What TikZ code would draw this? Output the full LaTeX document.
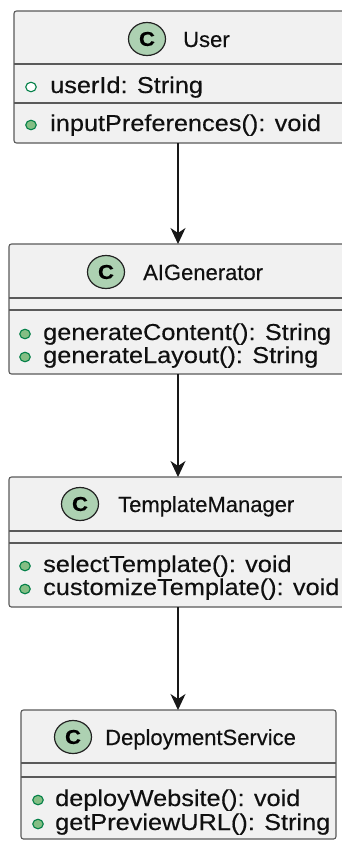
\documentclass[tikz,border=0pt]{standalone}
\usepackage{fontspec}
\setmainfont{Liberation Sans}[FakeBold=0.35]
\newfontfamily\memfont[FakeStretch=1.1,FakeBold=0.35]{Liberation Sans}
\newfontfamily\iconfont[FakeStretch=1.1,FakeBold=0.6]{Liberation Sans Bold}
\usetikzlibrary{arrows.meta,shapes.geometric}
\definecolor{boxfill}{HTML}{F1F1F1}
\definecolor{boxline}{HTML}{5A5A5A}
\definecolor{iconfill}{HTML}{ADD1B2}
\definecolor{icondraw}{HTML}{222222}
\definecolor{visline}{HTML}{038048}
\definecolor{visfill}{HTML}{84BE84}
\definecolor{arrcol}{HTML}{181818}
\definecolor{txt}{HTML}{101010}
\begin{document}
\begin{tikzpicture}[x=1pt,y=-1pt,
  classbox/.style={draw=boxline, fill=boxfill, line width=1.1pt, rounded corners=2.5pt,
    inner sep=0pt, outer sep=0pt, anchor=north west},
  sepline/.style={draw=boxline, line width=1.1pt},
  classtitle/.style={anchor=base west, inner sep=0pt, font=\fontsize{22}{24}\selectfont, text=txt},
  member/.style={anchor=base west, inner sep=0pt, font=\memfont\fontsize{23}{24}\selectfont, text=txt},
  cicon/.style={ellipse, draw=icondraw, fill=iconfill, line width=1.2pt, minimum width=37pt,
    minimum height=33pt, inner sep=0pt, font=\iconfont\fontsize{20}{20}\selectfont, text=black},
  pubfield/.style={ellipse, draw=visline, fill=white, line width=1.1pt, minimum width=10.5pt,
    minimum height=9.5pt, inner sep=0pt},
  pubmethod/.style={ellipse, draw=visline, fill=visfill, line width=1.1pt, minimum width=10.5pt,
    minimum height=9.5pt, inner sep=0pt},
  arr/.style={draw=arrcol, line width=1.2pt, -{Stealth[length=16pt, width=15pt, inset=5pt]}}
]
\useasboundingbox (0,0) rectangle (341,841);
\fill[white] (0,0) rectangle (341,841);

% User
\node[classbox, minimum width=331pt, minimum height=132pt] (user) at (14,11) {};
\draw[sepline] (14,64) -- (345,64);
\draw[sepline] (14,103) -- (345,103);
\node[cicon] (userc) at (147,39) {C};
\node[classtitle] (usert) at (183,47) {User};
\node[pubfield] (userd1) at (31,87) {};
\node[member] (userm1) at (50,93) {userId: String};
\node[pubmethod] (userd2) at (31,125) {};
\node[member] (userm2) at (50,131) {inputPreferences(): void};

% AIGenerator
\node[classbox, minimum width=336pt, minimum height=130pt] (ai) at (9,244) {};
\draw[sepline] (9,298) -- (345,298);
\draw[sepline] (9,310) -- (345,310);
\node[cicon] (aic) at (106,272) {C};
\node[classtitle] (ait) at (143,280) {AIGenerator};
\node[pubmethod] (aid1) at (25,334) {};
\node[member] (aim1) at (43,340) {generateContent(): String};
\node[pubmethod] (aid2) at (25,357) {};
\node[member] (aim2) at (43,363) {generateLayout(): String};

% TemplateManager
\node[classbox, minimum width=336pt, minimum height=130pt] (tm) at (9,477) {};
\draw[sepline] (9,531) -- (345,531);
\draw[sepline] (9,543) -- (345,543);
\node[cicon] (tmc) at (80,504) {C};
\node[classtitle] (tmt) at (118,512) {TemplateManager};
\node[pubmethod] (tmd1) at (25,566) {};
\node[member] (tmm1) at (43,572) {selectTemplate(): void};
\node[pubmethod] (tmd2) at (25,589) {};
\node[member] (tmm2) at (43,595) {customizeTemplate(): void};

% DeploymentService
\node[classbox, minimum width=315pt, minimum height=129pt] (ds) at (21,710) {};
\draw[sepline] (21,763) -- (336,763);
\draw[sepline] (21,777) -- (336,777);
\node[cicon] (dsc) at (73,737) {C};
\node[classtitle] (dst) at (105,745) {DeploymentService};
\node[pubmethod] (dsd1) at (38,800) {};
\node[member] (dsm1) at (55,806) {deployWebsite(): void};
\node[pubmethod] (dsd2) at (38,824) {};
\node[member] (dsm2) at (55,830) {getPreviewURL(): String};

% connectors
\coordinate (ax) at (178,0);
\draw[arr] (user.south -| ax) -- (ai.north -| ax);
\draw[arr] (ai.south -| ax) -- (tm.north -| ax);
\draw[arr] (tm.south -| ax) -- (ds.north -| ax);
\end{tikzpicture}
\end{document}
